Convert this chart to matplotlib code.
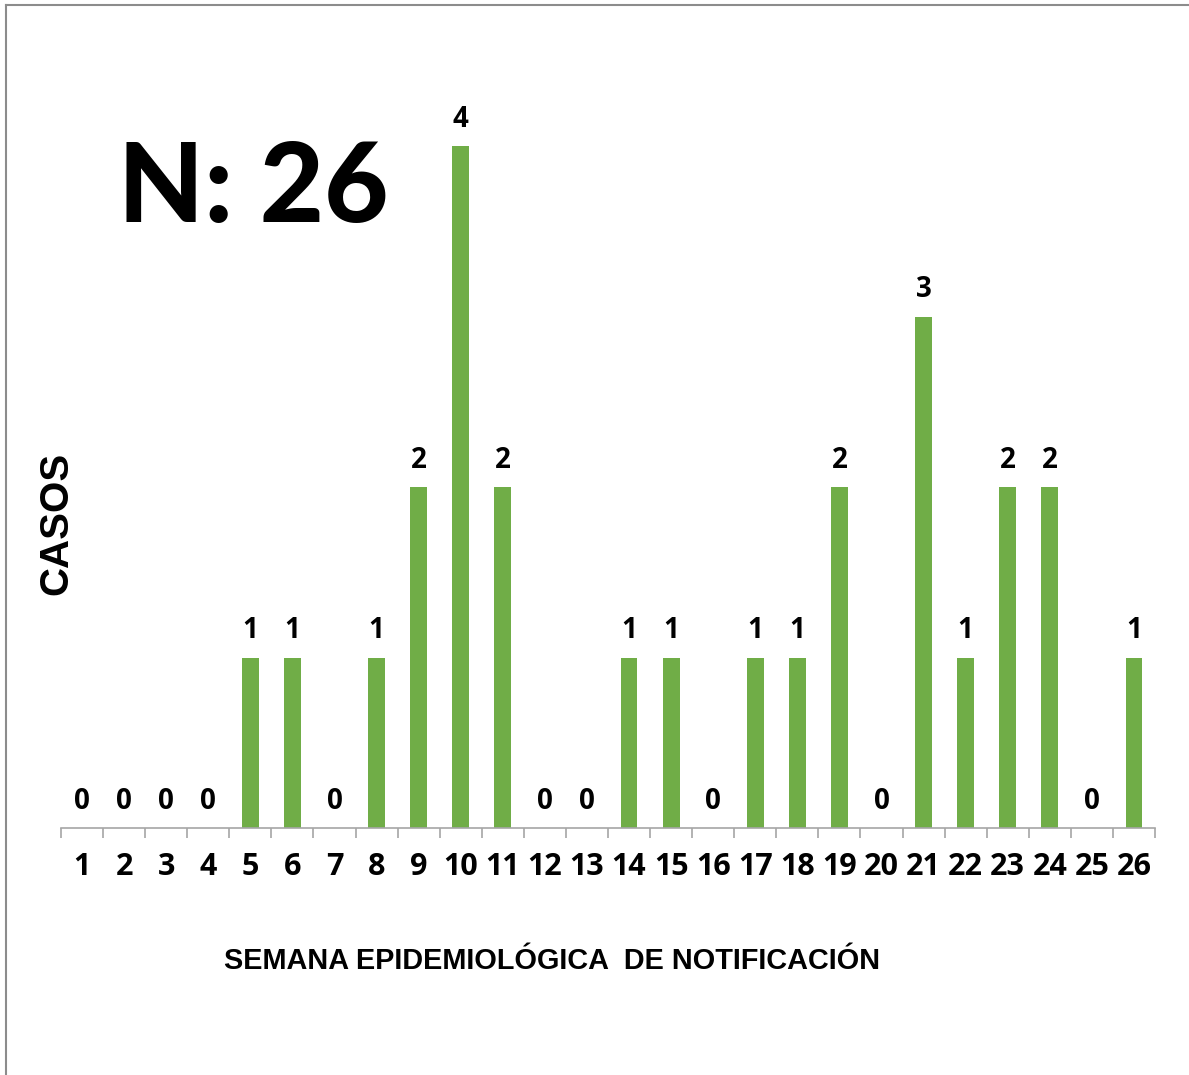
import matplotlib.pyplot as plt
from matplotlib.lines import Line2D
import numpy as np

# semanas epidemiológicas y casos
semanas = list(range(1, 27))
casos = [0, 0, 0, 0, 1, 1, 0, 1, 2, 4, 2, 0, 0, 1, 1, 0, 1, 1, 2, 0, 3, 1, 2, 2, 0, 1]
total_label = "N: 26"

BAR_COLOR = "#70AD47"
NUM_FONT = ["Open Sans", "DejaVu Sans"]
BIG_FONT = ["Lato", "DejaVu Sans"]
LABEL_FONT = ["Liberation Sans Narrow", "Liberation Sans", "DejaVu Sans"]

fig = plt.figure(figsize=(11.89, 10.75), dpi=100)
ax = fig.add_axes([61 / 1189, 1 - 828 / 1075, (1155 - 61) / 1189, (828 - 60) / 1075])

x = np.array(semanas)
ax.bar(x, casos, width=0.4, color=BAR_COLOR, zorder=2)

for xi, v in zip(x, casos):
    ax.annotate(str(v), (xi, v), xytext=(0, 14), textcoords="offset points",
                ha="center", va="baseline", fontsize=20, fontweight="bold",
                family=NUM_FONT, color="black")

ax.set_xlim(0.5, 26.5)
ax.set_ylim(0, (828 - 60) / 170.5)

for side in ["top", "right", "left"]:
    ax.spines[side].set_visible(False)
ax.spines["bottom"].set_color("#A6A6A6")
ax.spines["bottom"].set_linewidth(1.2)

ax.set_yticks([])
ax.set_xticks(x)
ax.set_xticklabels([str(s) for s in semanas], fontsize=22, fontweight="bold",
                   family=NUM_FONT)
ax.tick_params(axis="x", which="major", length=0, pad=17)
ax.set_xticks(np.arange(0.5, 27, 1), minor=True)
ax.tick_params(axis="x", which="minor", length=7, width=1.2, color="#A6A6A6",
               direction="out")

fig.text(56 / 1189, 1 - 523 / 1075, "CASOS", rotation=90, ha="center", va="center",
         fontsize=29, fontweight="bold", family=["Liberation Sans", "DejaVu Sans"])
fig.text(552 / 1189, 1 - 961 / 1075, "SEMANA EPIDEMIOLÓGICA  DE NOTIFICACIÓN",
         ha="center", va="center", fontsize=20.8, fontweight="bold", family=LABEL_FONT)
fig.text(118 / 1189, 1 - 222 / 1075, total_label, ha="left", va="baseline",
         fontsize=80, fontweight=900, family=BIG_FONT)

# marco gris del gráfico
fig.add_artist(Line2D([6 / 1189, 1], [1 - 5 / 1075, 1 - 5 / 1075],
                      transform=fig.transFigure, color="#8C8C8C", lw=1.5))
fig.add_artist(Line2D([6 / 1189, 6 / 1189], [0, 1 - 5 / 1075],
                      transform=fig.transFigure, color="#8C8C8C", lw=1.5))

fig.savefig("out.png", dpi=100, facecolor="white")
